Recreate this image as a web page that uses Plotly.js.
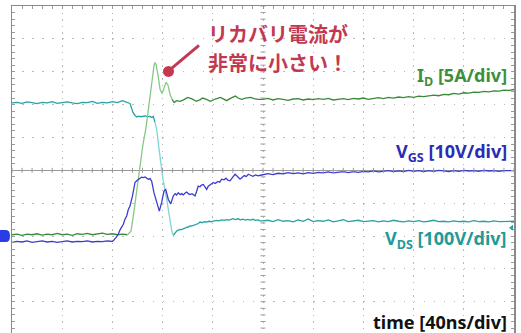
<!DOCTYPE html>
<html>
<head>
<meta charset="utf-8">
<script src="https://cdn.plot.ly/plotly-3.0.1.min.js"></script>
<style>html,body{margin:0;padding:0;overflow:hidden;background:#fff}</style>
</head>
<body>
<div id="chart" style="width:521px;height:333px"></div>
<script>
// ---- data (time in ns, values in physical units) ----
const timeID = [0,4,8,12,16,20,24,28,32,36,40,44,48,52,56,60,64,68,72,76,80,84,88,92,
  94.8,97.2,99.6,102,104.4,106.8,109.2,111.6,113.2,114,114.8,116.4,118,119.6,121.2,122.8,124.4,126,127.6,129.2,
  131,134,137,140,143,147,150,152,155,158,162,166,168,171,174,178,180,183,186,190,193,196,
  200,204,208,212,216,220,224,228,232,236,240,244,248,252,256,260,264,268,272,276,280,284,288,292,296,
  300,304,308,312,316,320,324,328,332,336,340,344,348,352,356,360,364,368,372,376,380,384,388,392,396,400];
const currentID = [0.2,0.3,0.1,0.3,0.2,0.35,0.15,0.3,0.2,0.4,0.2,0.3,0.1,0.35,0.25,0.4,0.2,0.3,0.45,0.25,0.35,0.2,0.3,0.2,
  0.73,3.8,7.1,11.2,14.0,16.5,20.0,23.8,26.0,26.4,26.1,24.4,22.3,21.7,22.6,23.4,22.9,21.5,20.8,20.3,
  20.6,20.5,20.75,21.1,20.9,20.5,20.75,21.0,20.8,20.5,20.85,21.1,20.9,20.6,20.95,21.3,21.0,20.8,21.0,21.1,20.9,20.8,
  20.8,20.95,20.7,20.9,20.8,20.65,20.85,20.9,20.7,20.85,20.75,20.9,20.8,20.95,20.7,20.85,20.9,20.75,20.95,20.85,21.0,20.8,20.95,21.05,20.9,
  21.1,21.0,21.15,21.05,21.2,21.1,21.3,21.2,21.35,21.45,21.35,21.55,21.5,21.7,21.6,21.8,21.75,21.9,21.85,22.0,21.95,22.1,22.05,22.2,22.15,22.3];

const timeVGS = [0,4,8,12,16,20,24,28,32,36,40,44,48,52,56,60,64,68,72,76,80,
  81,83,84.7,86,88.7,90,91.4,92.7,94,96,98,99.4,100.6,102,103.4,104.7,106,106.8,108.6,110,111.3,113.1,115.3,117.4,119.3,121.1,122.5,124.5,126.5,128.5,
  130,131.2,132.5,134,135.3,136.5,138,139.2,140.5,141.8,143.5,145.8,147,148.4,149.8,151,152.4,153.8,155.1,156.4,158,160.4,162,164,165.5,167.1,169,170.5,172,173.7,175.5,177.7,179.5,181.7,183.5,185,186.7,188.3,190,192,194,196,198,
  200,204,208,212,216,220,224,228,232,236,240,244,248,252,256,260,264,268,272,276,280,284,288,292,296,
  300,304,308,312,316,320,324,328,332,336,340,344,348,352,356,360,364,368,372,376,380,384,388,392,396,400];
const voltVGS = [-1.9,-1.6,-1.8,-1.5,-1.9,-1.7,-1.5,-1.8,-1.6,-1.9,-1.7,-1.5,-1.8,-1.6,-1.7,-1.5,-1.8,-1.6,-1.7,-1.5,-1.6,
  -1.3,-0.4,0.55,1.8,3.6,5.1,6.1,8.1,9.1,12.2,16.3,16.8,17.3,17.6,17.9,17.8,18.0,17.7,17.3,17.5,16.7,13.2,10.3,7.6,10.3,13.7,14.2,11.2,9.8,12.2,
  12.9,12.5,13.2,12.6,12.9,12.5,13.1,13.4,12.9,12.6,12.9,12.2,13.5,15.2,15.0,15.5,15.7,15.1,14.2,15.2,15.6,16.3,16.0,16.6,16.4,17.3,17.1,17.6,17.0,16.8,17.7,18.8,18.2,17.3,17.9,18.4,18.1,18.8,18.5,18.2,18.6,18.3,18.5,
  18.6,19.0,18.7,19.1,18.9,19.3,19.0,19.2,18.9,19.3,19.1,19.4,19.2,19.5,19.2,19.4,19.6,19.3,19.6,19.4,19.7,19.5,19.8,19.5,19.7,
  19.9,19.6,19.8,19.6,20.0,19.7,19.9,19.6,19.9,19.7,20.0,19.8,19.6,19.9,19.7,20.0,19.8,19.9,19.7,20.0,19.8,19.9,19.7,19.9,19.8,19.9];

const timeVDS = [0,4,8,12,16,20,24,28,32,36,40,44,48,52,56,60,64,68,72,76,80,84,88,92,
  94,96.4,98,99.6,101,102.5,104,106,108,109.9,111.6,112.6,113.9,115.3,116.7,117.9,120.3,123.3,125.9,127.3,128.5,
  130,131.2,132.5,133.9,135,136.3,137.8,139.2,140.5,141.8,143.5,145,147.2,148.5,149.8,151.5,153,155.1,157,159,161,163.1,165,167,169,171,173,176.1,178,180,182,184,186,188,189.6,192,194,196,197.6,
  200,204,208,212,216,220,224,228,232,236,240,244,248,252,256,260,264,268,272,276,280,284,288,292,296,
  300,304,308,312,316,320,324,328,332,336,340,344,348,352,356,360,364,368,372,376,380,384,388,392,396,400];
const voltVDS = [365,367,364,368,366,363,367,365,369,364,366,368,365,363,367,366,370,364,367,365,369,366,372,365,
  363.6,336,327,322.5,324.5,323,325,325.6,323.5,324,321,324,306,284.5,239,199.4,132.5,71.7,10.9,-24.6,-37.7,
  -30,-24.6,-22,-19.5,-20.5,-17.9,-16,-13.4,-12.5,-9.4,-9,-6.5,-4.3,-2,2.7,0.5,3.5,2.7,5,3.5,6.5,7.9,6,9,7.5,10,8.5,13.1,10,12.5,9.5,11.5,8.5,10.5,8.8,11,7.5,9,6.4,
  6,8,4,10,5,7,3,9,5,12,4,7,5,9,3,6,10,4,6,8,4,5,7,3,6,
  4,8,5,3,6,4,7,3,5,8,4,5,3,6,4,5,3,7,4,5,3,6,4,5,4,5];

// channel settings (volts/amps per division and screen offset in divisions)
const SCALE_ID = 5, SCALE_VGS = 10, SCALE_VDS = 100;
const OFF_ID = -2, OFF_VGS = -2, OFF_VDS = -1.6;

const labels = {
  id: 'I<sub>D</sub> [5A/div]',
  vgs: 'V<sub>GS</sub> [10V/div]',
  vds: 'V<sub>DS</sub> [100V/div]',
  time: 'time [40ns/div]',
  note1: 'リカバリ電流が',
  note2: '非常に小さい！'
};

// ---- build traces ----
function toDiv(vals, scale, off){ return vals.map(v => v/scale + off); }
function segment(t, y, lo, hi){
  const xs=[], ys=[];
  for(let i=0;i<t.length;i++){ if(t[i]>=lo && t[i]<=hi){ xs.push(t[i]); ys.push(y[i]); } }
  return {xs, ys};
}
function line(seg, color, w){
  return {x: seg.xs, y: seg.ys, type:'scatter', mode:'lines', line:{color:color, width:w, shape:'linear'}, hoverinfo:'skip'};
}
const yID = toDiv(currentID, SCALE_ID, OFF_ID);
const yGS = toDiv(voltVGS, SCALE_VGS, OFF_VGS);
const yDS = toDiv(voltVDS, SCALE_VDS, OFF_VDS);

const cGreen='#3a8a3a', cGreenL='#86c986', cTeal='#27a2a2', cTealL='#7fd5d5', cBlue='#3b3bd2';
const traces = [
  line(segment(timeVDS,yDS,0,113.9), cTeal, 1.3),
  line(segment(timeVDS,yDS,113.9,128.5), cTealL, 1.3),
  line(segment(timeVDS,yDS,128.5,400), cTeal, 1.3),
  line(segment(timeID,yID,0,92), cGreen, 1.3),
  line(segment(timeID,yID,92,127.6), cGreenL, 1.3),
  line(segment(timeID,yID,127.6,400), cGreen, 1.3),
  line(segment(timeVGS,yGS,0,400), cBlue, 1.3)
];

// ---- decorations ----
const shapes = [];
const gridC = '#9a9a9a';
for(let k=0;k<=400;k+=8){
  shapes.push({type:'line', xref:'x', yref:'y', ysizemode:'pixel', yanchor:0, y0:-2.5, y1:2.5, x0:k, x1:k, line:{color:gridC, width:1}});
}
for(let k=-24;k<=25;k++){
  const yy = k*0.2;
  shapes.push({type:'line', xref:'x', yref:'y', xsizemode:'pixel', xanchor:200, x0:-2.5, x1:2.5, y0:yy, y1:yy, line:{color:gridC, width:1}});
}
// red pointer
const red = '#c23a52';
shapes.push({type:'line', xref:'x', yref:'y', x0:125.5, y0:3.05, x1:149.0, y1:3.80, line:{color:red, width:3}});
shapes.push({type:'circle', xref:'x', yref:'y', xsizemode:'pixel', ysizemode:'pixel', xanchor:124.7, yanchor:3.01,
  x0:-5.5, x1:5.5, y0:-5.5, y1:5.5, fillcolor:red, line:{color:red, width:0}});
// channel ground marker (left)
shapes.push({type:'path', xref:'paper', yref:'y', xsizemode:'pixel', ysizemode:'pixel', xanchor:0, yanchor:-2.0,
  path:'M-12,6 L-6,6 Q-2,6 -2,0 Q-2,-6 -6,-6 L-12,-6 Z', fillcolor:'#2a3be8', line:{color:'#2a3be8', width:0}});
// small marker (right)
shapes.push({type:'path', xref:'paper', yref:'y', xsizemode:'pixel', ysizemode:'pixel', xanchor:1, yanchor:-1.75,
  path:'M-1,3 L-5,0 L-1,-3 Z', fillcolor:cTeal, line:{color:cTeal, width:0}});

const lblFont = 'Noto Sans, sans-serif';
const jpFont = '"Noto Sans CJK JP", sans-serif';
const xr = 396;
const annotations = [
  {x:xr, y:2.87, xref:'x', yref:'y', xanchor:'right', yanchor:'middle', showarrow:false,
   text:'<b>'+labels.id+'</b>', font:{family:lblFont, size:18, color:'#3d8f3d'}},
  {x:xr, y:0.55, xref:'x', yref:'y', xanchor:'right', yanchor:'middle', showarrow:false,
   text:'<b>'+labels.vgs+'</b>', font:{family:lblFont, size:18, color:'#2b2bb5'}},
  {x:xr, y:-2.12, xref:'x', yref:'y', xanchor:'right', yanchor:'middle', showarrow:false,
   text:'<b>'+labels.vds+'</b>', font:{family:lblFont, size:18, color:'#1f9a98'}},
  {x:xr, y:-4.6, xref:'x', yref:'y', xanchor:'right', yanchor:'middle', showarrow:false,
   text:'<b>'+labels.time+'</b>', font:{family:lblFont, size:18, color:'#111111'}},
  {x:155.4, y:4.163, xref:'x', yref:'y', xanchor:'left', yanchor:'middle', align:'left', showarrow:false,
   borderpad:0,
   text:'<b>'+labels.note1+'</b>', font:{family:jpFont, size:20, color:red}},
  {x:155.4, y:3.281, xref:'x', yref:'y', xanchor:'left', yanchor:'middle', align:'left', showarrow:false,
   borderpad:0,
   text:'<b>'+labels.note2+'</b>', font:{family:jpFont, size:20, color:red}}
];

const layout = {
  width:521, height:333, autosize:false,
  margin:{l:12, r:7, t:6, b:0, pad:0},
  paper_bgcolor:'#ffffff', plot_bgcolor:'#ffffff',
  showlegend:false, hovermode:false,
  xaxis:{range:[0,400], side:'top', showline:true, linecolor:'#8a8a8a', linewidth:1.5, mirror:false,
    ticks:'inside', ticklen:3, tickcolor:'#9a9a9a', dtick:40, tick0:0, showticklabels:false,
    showgrid:true, gridcolor:'#b8b8b8', gridwidth:1, griddash:'1.5px,5.07px', zeroline:false, fixedrange:true,
    minor:{dtick:8, tick0:0, ticks:'inside', ticklen:3, tickcolor:'#9a9a9a', showgrid:false}},
  yaxis:{range:[-4.95,5], showline:true, linecolor:'#8a8a8a', linewidth:1.5, mirror:'ticks',
    ticks:'inside', ticklen:3, tickcolor:'#9a9a9a', dtick:1, tick0:0, showticklabels:false,
    showgrid:true, gridcolor:'#b8b8b8', gridwidth:1, griddash:'1.5px,8.54px',
    zeroline:true, zerolinecolor:'#9a9a9a', zerolinewidth:1, fixedrange:true,
    minor:{dtick:0.2, tick0:0, ticks:'inside', ticklen:3, tickcolor:'#9a9a9a', showgrid:false}},
  shapes:shapes,
  annotations:annotations
};

Plotly.newPlot('chart', traces, layout, {staticPlot:true, displayModeBar:false});
</script>
</body>
</html>
